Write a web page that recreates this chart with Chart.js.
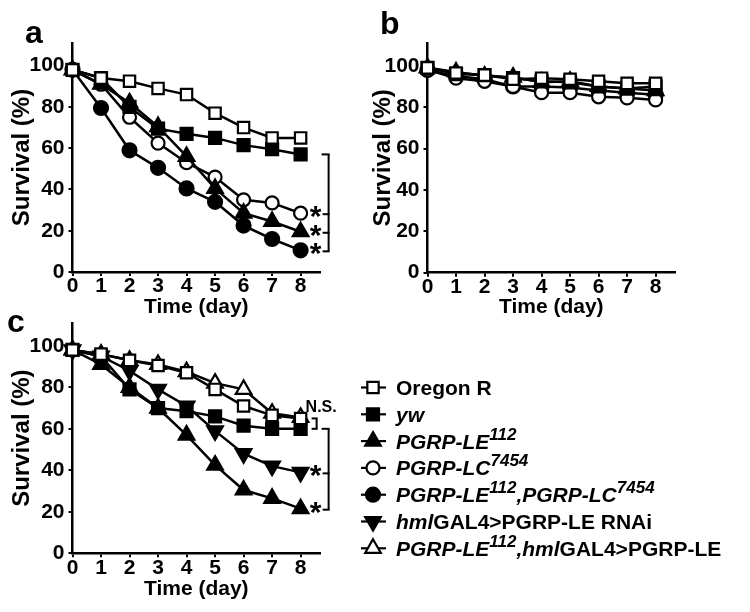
<!DOCTYPE html>
<html>
<head>
<meta charset="utf-8">
<script src="https://cdn.jsdelivr.net/npm/chart.js@4.4.0/dist/chart.umd.min.js"></script>
<style>
  body { margin: 0; background: #fff; width: 750px; height: 612px; position: relative; overflow: hidden; }
  canvas { position: absolute; }
</style>
</head>
<body>
<canvas id="chartA" width="375" height="330" style="left:0px;top:0px"></canvas>
<canvas id="chartB" width="390" height="330" style="left:360px;top:0px"></canvas>
<canvas id="chartC" width="750" height="312" style="left:0px;top:300px"></canvas>
<script>
// x axis: days after infection
const days = [0, 1, 2, 3, 4, 5, 6, 7, 8];
const dayTicks = [0, 1, 2, 3, 4, 5, 6, 7, 8];
const survivalTicks = [0, 20, 40, 60, 80, 100];

// panel a
const aOregonR = [98, 94, 92.5, 89, 86, 77, 70, 65, 65];
const aYw      = [98, 94, 80, 69.5, 67, 65, 61.5, 59.5, 57];
const aLE112   = [98, 91, 82, 70.5, 56, 40.5, 28.5, 24.5, 19.5];
const aLC7454  = [98, 91, 75, 62.5, 53, 46, 35, 33.5, 28.5];
const aDouble  = [98, 79.5, 59, 50.5, 40.5, 34, 22.5, 16, 10.5];

// panel b
const bOregonR = [99, 96.5, 95.5, 93.5, 94, 93.5, 92.5, 91.5, 91.5];
const bYw      = [99, 96, 95.5, 94, 92.5, 92, 90, 89, 90];
const bLE112   = [99, 97, 95, 94.5, 92, 92.5, 90, 89, 88];
const bLC7454  = [98, 94, 92.5, 90, 87, 87, 85, 84.5, 83.5];
const bDouble  = [98, 95, 93.5, 90, 90, 89.5, 88, 87, 86];

// panel c
const cOregonR = [98, 96, 93, 90.5, 87, 79, 71, 66.5, 65];
const cYw      = [98, 95, 79, 70, 68.5, 66, 61.5, 60, 60];
const cLE112   = [98, 91, 80, 70, 57, 42.5, 30.5, 26.5, 21.5];
const cRNAi    = [98, 95, 88, 79, 71, 59, 48, 42, 39];
const cRescue  = [98, 96, 93, 91, 87.5, 82, 79, 67.5, 65.5];

const FONT = "'Liberation Sans', Arial, Helvetica, sans-serif";
Chart.defaults.font.family = FONT;
Chart.defaults.font.weight = 'bold';
Chart.defaults.color = '#000';

// marker look for each genotype
const marks = {
  oregon: { pointStyle: 'rect', radius: 8, fill: '#fff', rotation: 0 },
  yw:     { pointStyle: 'rect', radius: 8.5, fill: '#000', rotation: 0 },
  le:     { pointStyle: 'triangle', radius: 9, fill: '#000', rotation: 0 },
  lc:     { pointStyle: 'circle', radius: 6.5, fill: '#fff', rotation: 0 },
  dbl:    { pointStyle: 'circle', radius: 7, fill: '#000', rotation: 0 },
  rnai:   { pointStyle: 'triangle', radius: 9, fill: '#000', rotation: 180 },
  rescue: { pointStyle: 'triangle', radius: 9, fill: '#fff', rotation: 0 }
};

function series(label, values, m) {
  return {
    label: label,
    data: days.map((d, i) => ({ x: d, y: values[i] })),
    borderColor: '#000',
    borderWidth: 2.5,
    pointStyle: m.pointStyle,
    pointRadius: m.radius,
    pointRotation: m.rotation,
    pointBackgroundColor: m.fill,
    pointBorderColor: '#000',
    pointBorderWidth: 2.2,
    clip: false
  };
}

function makeScales(yWidth, yTitlePad, xHeight, xTitlePad) {
  return {
    x: {
      type: 'linear', min: 0, max: 8.68,
      afterBuildTicks: s => { s.ticks = dayTicks.map(v => ({ value: v })); },
      afterFit: s => { s.height = xHeight; },
      ticks: { font: { size: 21, lineHeight: 1 }, padding: 0, maxRotation: 0, autoSkip: false },
      grid: { drawOnChartArea: false, tickLength: 4, color: '#000', lineWidth: 2 },
      border: { color: '#000', width: 2.5 },
      title: { display: true, text: 'Time (day)', font: { size: 21, lineHeight: 1 }, padding: { top: 0, bottom: xTitlePad } }
    },
    y: {
      min: 0, max: 111,
      afterBuildTicks: s => { s.ticks = survivalTicks.map(v => ({ value: v })); },
      afterFit: s => { s.width = yWidth; },
      ticks: { font: { size: 21, lineHeight: 1 }, padding: 4 },
      grid: { drawOnChartArea: false, tickLength: 4, color: '#000', lineWidth: 2 },
      border: { color: '#000', width: 2.5 },
      title: { display: true, text: 'Survival (%)', font: { size: 24, lineHeight: 1 }, padding: { top: yTitlePad, bottom: 0 } }
    }
  };
}

function line(ctx, x1, y1, x2, y2) {
  ctx.beginPath();
  ctx.moveTo(x1, y1);
  ctx.lineTo(x2, y2);
  ctx.stroke();
}

function star(ctx, x, y) {
  ctx.font = 'bold 30px ' + FONT;
  ctx.textAlign = 'center';
  ctx.textBaseline = 'alphabetic';
  ctx.fillText('*', x, y + 12);
}

function panelLabel(ctx, t, x, y) {
  ctx.font = 'bold 32px ' + FONT;
  ctx.textAlign = 'left';
  ctx.textBaseline = 'alphabetic';
  ctx.fillStyle = '#000';
  ctx.fillText(t, x, y);
}

// brackets + asterisks at the right end of a curve set
function significance(chart, topVal, starVals) {
  const { ctx, scales: { x, y } } = chart;
  const x8 = x.getPixelForValue(8);
  const bx = x8 + 28;
  const top = y.getPixelForValue(topVal);
  const ys = starVals.map(v => y.getPixelForValue(v) + 1);
  ctx.save();
  ctx.strokeStyle = '#000';
  ctx.fillStyle = '#000';
  ctx.lineWidth = 2;
  line(ctx, bx, top, bx, ys[ys.length - 1]);
  line(ctx, bx - 7, top, bx + 1, top);
  ys.forEach(sy => {
    line(ctx, bx - 6, sy, bx + 1, sy);
    star(ctx, x8 + 15, sy);
  });
  ctx.restore();
}

const legendItems = [
  { m: marks.oregon, parts: [{ t: 'Oregon R' }] },
  { m: marks.yw, parts: [{ t: 'yw', it: true }] },
  { m: marks.le, parts: [{ t: 'PGRP-LE', it: true }, { t: '112', it: true, sup: true }] },
  { m: marks.lc, parts: [{ t: 'PGRP-LC', it: true }, { t: '7454', it: true, sup: true }] },
  { m: marks.dbl, parts: [{ t: 'PGRP-LE', it: true }, { t: '112', it: true, sup: true }, { t: ',PGRP-LC', it: true }, { t: '7454', it: true, sup: true }] },
  { m: marks.rnai, parts: [{ t: 'hml', it: true }, { t: 'GAL4>PGRP-LE RNAi' }] },
  { m: marks.rescue, parts: [{ t: 'PGRP-LE', it: true }, { t: '112', it: true, sup: true }, { t: ',hml', it: true }, { t: 'GAL4>PGRP-LE' }] }
];

function drawLegend(ctx) {
  ctx.save();
  legendItems.forEach((item, i) => {
    const base = 95 + i * 26.8;
    const cy = base - 7.5;
    ctx.strokeStyle = '#000';
    ctx.lineWidth = 2.2;
    line(ctx, 361, cy, 386, cy);
    ctx.fillStyle = item.m.fill;
    Chart.helpers.drawPoint(ctx, { pointStyle: item.m.pointStyle, radius: item.m.radius, rotation: item.m.rotation, borderWidth: 2.2 }, 373, cy);
    ctx.fillStyle = '#000';
    ctx.textAlign = 'left';
    ctx.textBaseline = 'alphabetic';
    let x = 396;
    item.parts.forEach(p => {
      const size = p.sup ? 17 : 21;
      ctx.font = (p.it ? 'italic ' : '') + 'bold ' + size + 'px ' + FONT;
      ctx.fillText(p.t, x, p.sup ? base - 9 : base);
      x += ctx.measureText(p.t).width;
    });
  });
  ctx.restore();
}

new Chart(document.getElementById('chartA'), {
  type: 'line',
  data: {
    datasets: [
      series('Oregon R', aOregonR, marks.oregon),
      series('yw', aYw, marks.yw),
      series('PGRP-LE112', aLE112, marks.le),
      series('PGRP-LC7454', aLC7454, marks.lc),
      series('PGRP-LE112,PGRP-LC7454', aDouble, marks.dbl)
    ]
  },
  options: {
    responsive: false, animation: false, devicePixelRatio: 1,
    layout: { padding: { top: 43, right: 55, left: 0, bottom: 0 } },
    plugins: { legend: { display: false }, tooltip: { enabled: false } },
    scales: makeScales(72.5, 10, 58, 12.5)
  },
  plugins: [{
    id: 'marksA',
    afterDatasetsDraw(chart) {
      significance(chart, aYw[8], [aLC7454[8], aLE112[8], aDouble[8]]);
      panelLabel(chart.ctx, 'a', 25, 43);
    }
  }]
});

new Chart(document.getElementById('chartB'), {
  type: 'line',
  data: {
    datasets: [
      series('Oregon R', bOregonR, marks.oregon),
      series('yw', bYw, marks.yw),
      series('PGRP-LE112', bLE112, marks.le),
      series('PGRP-LC7454', bLC7454, marks.lc),
      series('PGRP-LE112,PGRP-LC7454', bDouble, marks.dbl)
    ]
  },
  options: {
    responsive: false, animation: false, devicePixelRatio: 1,
    layout: { padding: { top: 43, right: 75, left: 0, bottom: 0 } },
    plugins: { legend: { display: false }, tooltip: { enabled: false } },
    scales: makeScales(67.5, 11.5, 57.3, 12.5)
  },
  plugins: [{
    id: 'marksB',
    afterDatasetsDraw(chart) {
      panelLabel(chart.ctx, 'b', 20, 34);
    }
  }]
});

new Chart(document.getElementById('chartC'), {
  type: 'line',
  data: {
    datasets: [
      series('Oregon R', cOregonR, marks.oregon),
      series('yw', cYw, marks.yw),
      series('PGRP-LE112', cLE112, marks.le),
      series('hmlGAL4>PGRP-LE RNAi', cRNAi, marks.rnai),
      series('PGRP-LE112,hmlGAL4>PGRP-LE', cRescue, marks.rescue)
    ]
  },
  options: {
    responsive: false, animation: false, devicePixelRatio: 1,
    layout: { padding: { top: 23, right: 430, left: 0, bottom: 0 } },
    plugins: { legend: { display: false }, tooltip: { enabled: false } },
    scales: makeScales(72.5, 10, 58.7, 12.5)
  },
  plugins: [{
    id: 'marksC',
    afterDatasetsDraw(chart) {
      const { ctx, scales: { x, y } } = chart;
      significance(chart, cYw[8], [cRNAi[8], cLE112[8]]);
      // N.S. between Oregon R / rescue and yw
      const x8 = x.getPixelForValue(8);
      const t = y.getPixelForValue(cRescue[8]);
      const b = y.getPixelForValue(cYw[8]);
      ctx.save();
      ctx.strokeStyle = '#000';
      ctx.lineWidth = 2;
      line(ctx, x8 + 16, t + 1, x8 + 16, b);
      line(ctx, x8 + 11, t + 1, x8 + 17, t + 1);
      line(ctx, x8 + 11, b, x8 + 17, b);
      ctx.fillStyle = '#000';
      ctx.font = 'bold 16px ' + FONT;
      ctx.textAlign = 'left';
      ctx.fillText('N.S.', x8 + 5, t - 5);
      ctx.restore();
      panelLabel(ctx, 'c', 7, 32);
      drawLegend(ctx);
    }
  }]
});
</script>
</body>
</html>
